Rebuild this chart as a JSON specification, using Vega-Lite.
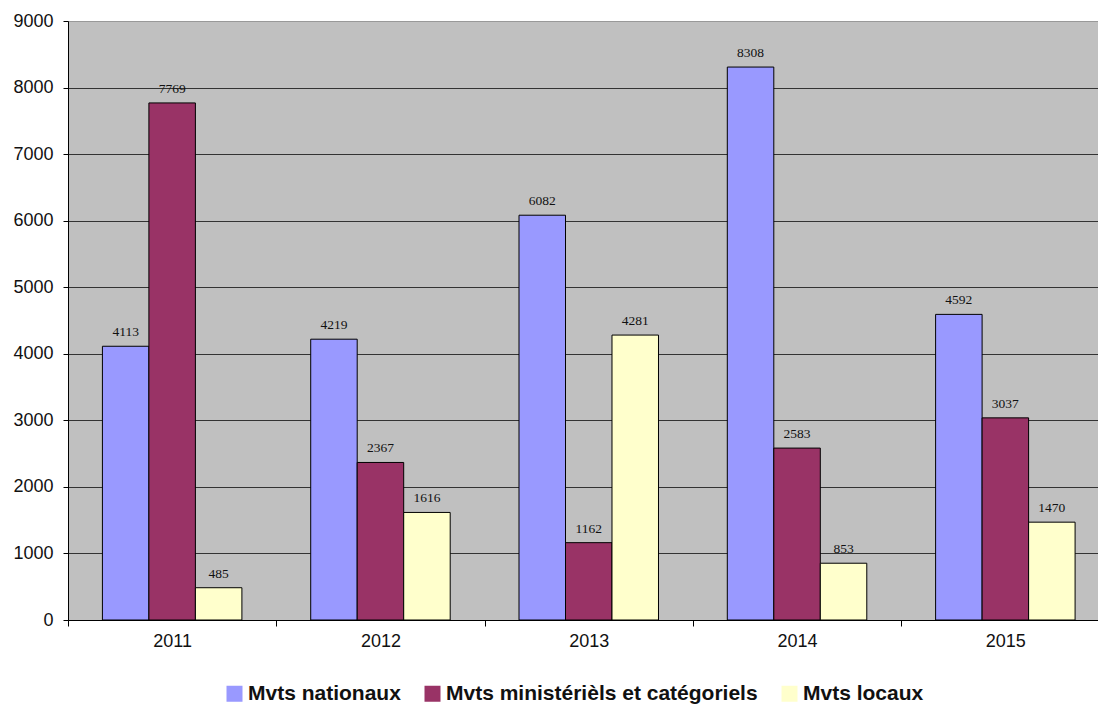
{
  "$schema": "https://vega.github.io/schema/vega-lite/v6.json",
  "autosize": "none",
  "padding": {"left": 68, "top": 21, "right": 0, "bottom": 84},
  "width": 1041.5,
  "height": 599,
  "background": "white",
  "config": {
    "view": {"fill": "#C0C0C0", "stroke": null},
    "font": "Liberation Sans"
  },
  "data": {
    "values": [
      {"year": "2011", "serie": "Mvts nationaux", "value": 4113},
      {"year": "2011", "serie": "Mvts ministérièls et catégoriels", "value": 7769},
      {"year": "2011", "serie": "Mvts locaux", "value": 485},
      {"year": "2012", "serie": "Mvts nationaux", "value": 4219},
      {"year": "2012", "serie": "Mvts ministérièls et catégoriels", "value": 2367},
      {"year": "2012", "serie": "Mvts locaux", "value": 1616},
      {"year": "2013", "serie": "Mvts nationaux", "value": 6082},
      {"year": "2013", "serie": "Mvts ministérièls et catégoriels", "value": 1162},
      {"year": "2013", "serie": "Mvts locaux", "value": 4281},
      {"year": "2014", "serie": "Mvts nationaux", "value": 8308},
      {"year": "2014", "serie": "Mvts ministérièls et catégoriels", "value": 2583},
      {"year": "2014", "serie": "Mvts locaux", "value": 853},
      {"year": "2015", "serie": "Mvts nationaux", "value": 4592},
      {"year": "2015", "serie": "Mvts ministérièls et catégoriels", "value": 3037},
      {"year": "2015", "serie": "Mvts locaux", "value": 1470}
    ]
  },
  "encoding": {
    "x": {
      "field": "year", "type": "nominal",
      "scale": {"paddingInner": 0, "paddingOuter": 0},
      "axis": {
        "title": null, "labelAngle": 0, "tickBand": "extent",
        "labelFont": "Liberation Sans", "labelFontSize": 18, "labelColor": "#111",
        "domainColor": "black", "tickColor": "black", "tickSize": 6, "labelPadding": 6,
        "grid": false
      }
    },
    "xOffset": {
      "field": "serie", "type": "nominal",
      "sort": ["Mvts nationaux", "Mvts ministérièls et catégoriels", "Mvts locaux"],
      "scale": {"paddingInner": 0, "paddingOuter": 0.74}
    },
    "y": {
      "field": "value", "type": "quantitative",
      "scale": {"domain": [0, 9000], "nice": false},
      "axis": {
        "title": null, "values": [0,1000,2000,3000,4000,5000,6000,7000,8000,9000],
        "format": "d",
        "labelFont": "Liberation Sans", "labelFontSize": 18, "labelColor": "#111",
        "domainColor": "black", "tickColor": "black", "tickSize": 5, "labelPadding": 10,
        "grid": true,
        "gridColor": {"condition": {"test": "datum.value == 9000", "value": "#999999"}, "value": "#333333"},
        "gridOpacity": 1
      }
    }
  },
  "layer": [
    {
      "mark": {"type": "bar", "stroke": "black", "strokeWidth": 1},
      "encoding": {
        "color": {
          "field": "serie", "type": "nominal",
          "sort": ["Mvts nationaux", "Mvts ministérièls et catégoriels", "Mvts locaux"],
          "scale": {
            "domain": ["Mvts nationaux", "Mvts ministérièls et catégoriels", "Mvts locaux"],
            "range": ["#9999FF", "#993366", "#FFFFCC"]
          },
          "legend": {
            "title": null, "orient": "none", "direction": "horizontal",
            "legendX": 156, "legendY": 662,
            "symbolType": "square", "symbolSize": 256, "symbolStrokeWidth": 0,
            "labelFont": "Liberation Sans", "labelFontSize": 21, "labelFontWeight": "bold",
            "labelColor": "#111", "labelOffset": 3, "columnPadding": 21, "labelLimit": 500
          }
        }
      }
    },
    {
      "mark": {"type": "text", "baseline": "alphabetic", "dy": -10, "font": "Liberation Serif", "fontSize": 13.5, "color": "#111"},
      "encoding": {
        "text": {"field": "value", "type": "quantitative"}
      }
    }
  ]
}
